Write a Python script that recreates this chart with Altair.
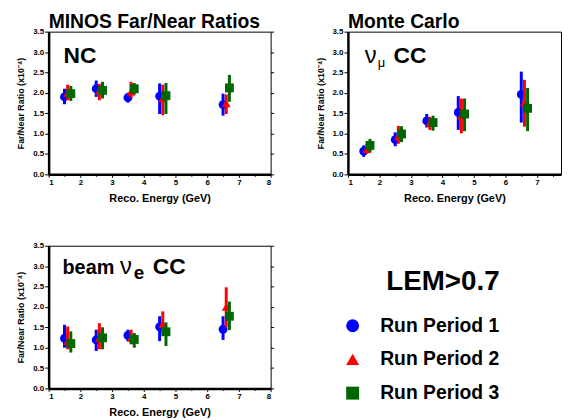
import altair as alt
import pandas as pd

FONT = "Liberation Sans"

# ---------------- data ----------------
ENERGY = [1.5, 2.5, 3.5, 4.5, 6.5]
PERIODS = ["Run Period 1", "Run Period 2", "Run Period 3"]
SHIFT = [0.0, 0.1, 0.2]
COLORS = ["#0000ff", "#ff0000", "#006600"]
SHAPES = ["circle", "triangle-up", "square"]

X_TICKS = [1, 1.5, 2, 2.5, 3, 3.5, 4, 4.5, 5, 5.5, 6, 6.5, 7, 7.5, 8]
Y_TICKS = [0, 0.5, 1.0, 1.5, 2.0, 2.5, 3.0, 3.5]

# NC
NC_VAL = [[1.90, 2.10, 1.88, 1.92, 1.71],
          [2.00, 2.05, 2.03, 1.86, 1.74],
          [1.98, 2.06, 2.10, 1.93, 2.12]]
NC_LO = [[1.72, 1.90, 1.76, 1.48, 1.44],
         [1.82, 1.82, 1.88, 1.45, 1.48],
         [1.80, 1.86, 1.96, 1.48, 1.78]]
NC_HI = [[2.10, 2.30, 2.00, 2.23, 1.98],
         [2.20, 2.22, 2.27, 2.20, 1.96],
         [2.17, 2.27, 2.24, 2.24, 2.44]]

# numu CC
MU_VAL = [[0.57, 0.85, 1.31, 1.52, 1.96],
          [0.62, 0.93, 1.27, 1.44, 1.76],
          [0.71, 0.99, 1.27, 1.48, 1.62]]
MU_LO = [[0.43, 0.69, 1.15, 1.09, 1.27],
         [0.51, 0.75, 1.09, 1.01, 1.17],
         [0.55, 0.79, 1.07, 1.06, 1.06]]
MU_HI = [[0.71, 1.03, 1.48, 1.92, 2.52],
         [0.75, 1.19, 1.41, 1.86, 2.32],
         [0.87, 1.18, 1.44, 1.86, 2.12]]

# beam nue CC
NE_VAL = [[1.23, 1.19, 1.30, 1.51, 1.45],
          [1.16, 1.24, 1.24, 1.58, 2.00],
          [1.10, 1.24, 1.20, 1.39, 1.77]]
NE_LO = [[1.00, 0.92, 1.16, 1.16, 1.19],
         [0.96, 0.96, 1.08, 1.32, 1.50],
         [0.88, 0.96, 1.00, 1.04, 1.43]]
NE_HI = [[1.56, 1.44, 1.44, 1.77, 1.77],
         [1.52, 1.60, 1.44, 1.89, 2.48],
         [1.40, 1.50, 1.36, 1.62, 2.13]]

LEGEND_TITLE = "LEM>0.7"
X_TITLE = "Reco. Energy (GeV)"
Y_TITLE = "Far/Near Ratio (x10⁻⁴)"


def series_df(vals, lo, hi, i):
    return pd.DataFrame({
        "period": PERIODS[i],
        "E": [e + SHIFT[i] for e in ENERGY],
        "v": vals[i],
        "lo": lo[i],
        "hi": hi[i],
    })


color_scale = alt.Scale(domain=PERIODS, range=COLORS)
shape_scale = alt.Scale(domain=PERIODS, range=SHAPES)
legend = alt.Legend(title=LEGEND_TITLE, orient="none", legendX=297, legendY=239)


def panel(vals, lo, hi, texts, width, xmax, right_ticks, title=None):
    xs = alt.Scale(domain=[1, xmax], nice=False, zero=False)
    ys = alt.Scale(domain=[0, 3.5], nice=False)
    x_axis = alt.Axis(values=[t for t in X_TICKS if t <= xmax], title=X_TITLE,
                      labelExpr="datum.value % 1 ? '' : format(datum.value, 'd')",
                      tickSize={"condition": {"test": "datum.value % 1", "value": 2}, "value": 3})
    y_axis = alt.Axis(values=Y_TICKS, format=".1f", title=Y_TITLE, orient="left")
    layers = []
    for i in range(3):
        d = series_df(vals, lo, hi, i)
        base = alt.Chart(d)
        rule = base.mark_rule(strokeWidth=3).encode(
            x=alt.X("E:Q", scale=xs, axis=x_axis),
            y=alt.Y("lo:Q", scale=ys, axis=y_axis),
            y2="hi:Q",
            color=alt.Color("period:N", scale=color_scale, legend=legend),
        )
        pts = base.mark_point(filled=True, size=80, opacity=1).encode(
            x=alt.X("E:Q", scale=xs, axis=x_axis),
            y=alt.Y("v:Q", scale=ys, axis=y_axis),
            color=alt.Color("period:N", scale=color_scale, legend=legend),
            shape=alt.Shape("period:N", scale=shape_scale, legend=legend),
        )
        layers += [rule, pts]
    for (t, x, y, size, weight) in texts:
        layers.append(
            alt.Chart(pd.DataFrame({"t": [t]})).mark_text(
                font=FONT, fontSize=size, fontWeight=weight, align="left",
                baseline="alphabetic", color="black"
            ).encode(text="t:N", x=alt.value(x), y=alt.value(y))
        )
    ch = alt.layer(*layers)
    if right_ticks:
        y_axis_r = alt.Axis(values=Y_TICKS, orient="right", labels=False, title=None,
                            domain=False, tickSize=3)
        rt = alt.Chart(pd.DataFrame({"t": Y_TICKS})).mark_point(opacity=0).encode(
            y=alt.Y("t:Q", scale=ys, axis=y_axis_r))
        ch = alt.layer(ch, rt).resolve_axis(y="independent")
    ch = ch.properties(width=width, height=144)
    if title is not None:
        ch = ch.properties(title=alt.TitleParams(title, anchor="start", frame="group",
                                                 fontSize=19.5, font=FONT, fontWeight="bold",
                                                 offset=-5, color="black"))
    return ch


nc = panel(NC_VAL, NC_LO, NC_HI, [("NC", 15, 32, 23, "bold")], 224, 8, True,
           title="MINOS Far/Near Ratios")
mu = panel(MU_VAL, MU_LO, MU_HI,
           [("ν", 17, 32, 24, "normal"), ("μ", 30, 36, 13, "normal"), ("CC", 46, 32, 23, "bold")],
           215, 7.76, False, title="Monte Carlo")
ne = panel(NE_VAL, NE_LO, NE_HI,
           [("beam", 14, 29, 20, "bold"), ("ν", 72, 29, 24, "normal"),
            ("e", 86, 34, 19, "bold"), ("CC", 105, 29, 23, "bold")],
           224, 8, True)

chart = alt.concat(nc, mu, ne, columns=2, spacing={"row": 72, "column": 78}, bounds="flush") \
    .resolve_scale(color="shared", shape="shared") \
    .properties(padding={"left": 8, "top": 2, "right": 0, "bottom": 0}) \
    .configure_view(stroke="black", strokeWidth=1) \
    .configure_axis(domainWidth=2.5, domainColor="black", tickColor="black", tickWidth=1,
                    labelFont=FONT, labelFontWeight="bold", labelFontSize=8, labelColor="black",
                    labelPadding=1, titleFont=FONT, titleFontWeight="bold", titleColor="black",
                    grid=False) \
    .configure_axisX(titleFontSize=11, titlePadding=6) \
    .configure_axisY(titleFontSize=9, titlePadding=7, tickSize=4) \
    .configure_legend(labelFont=FONT, labelFontSize=19.5, labelFontWeight="bold", labelColor="black",
                      titleFont=FONT, titleFontSize=28, titleFontWeight="bold", titleColor="black",
                      symbolSize=170, symbolStrokeWidth=0, labelOffset=18, rowPadding=13,
                      titlePadding=20, titleAnchor="end")

chart.save("out.html", embed_options={"renderer": "svg", "actions": False})
